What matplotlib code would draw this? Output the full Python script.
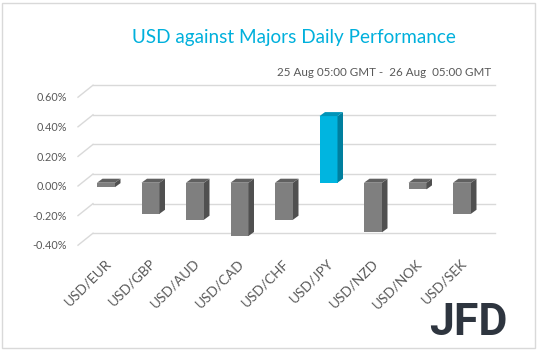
import matplotlib

matplotlib.use("Agg")
import matplotlib.pyplot as plt
from matplotlib.patches import Polygon, Rectangle

# data
pairs = ["USD/EUR", "USD/GBP", "USD/AUD", "USD/CAD", "USD/CHF", "USD/JPY", "USD/NZD", "USD/NOK", "USD/SEK"]
perf = [-0.03, -0.21, -0.25, -0.36, -0.25, 0.45, -0.335, -0.045, -0.21]
ticks = [-0.4, -0.2, 0.0, 0.2, 0.4, 0.6]
tick_labels = ["-0.40%", "-0.20%", "0.00%", "0.20%", "0.40%", "0.60%"]

W, H = 538, 351
FONT = "Lato"
GRAY_TXT = "#595959"
GRID = "#d9d9d9"

# pixel layout of the excel-like 3d plot
px_cat, x0_px = 44.5, 106.0
px_pct, y0_px = 148.0, 182.7

fig = plt.figure(figsize=(W / 100, H / 100), dpi=100)
fig.patch.set_facecolor("white")

left_px, right_px, top_px, bot_px = 70, 500, 80, 250
ax = fig.add_axes([left_px / W, 1 - bot_px / H, (right_px - left_px) / W, (bot_px - top_px) / H])
ax.set_xlim((left_px - x0_px) / px_cat, (right_px - x0_px) / px_cat)
ax.set_ylim((y0_px - bot_px) / px_pct, (y0_px - top_px) / px_pct)
ax.axis("off")


def cx(px):
    return (px - x0_px) / px_cat


def vy(px):
    return px / px_pct


# back wall gridlines + floor diagonals
back_dy = vy(8.7)
for lev, lab in zip(ticks, tick_labels):
    ax.plot([cx(93), cx(495)], [lev + back_dy, lev + back_dy], color=GRID, lw=1.0, zorder=1, clip_on=False)
    ax.plot([cx(78), cx(93)], [lev - vy(3.3), lev + back_dy], color=GRID, lw=1.0, zorder=1, clip_on=False)
    ax.text(cx(67), lev - vy(4), lab, ha="right", va="center", fontsize=7.8, color=GRAY_TXT,
            family=FONT)

# 3d bars
bw = 18 / px_cat
ddx, ddy = 5.5 / px_cat, vy(4)
for i, (name, v) in enumerate(zip(pairs, perf)):
    if name == "USD/JPY":
        front, side, top = "#00b5e0", "#007f9e", "#0094b8"
    else:
        front, side, top = "#7f7f7f", "#505050", "#606060"
    x1, x2 = i - bw / 2, i + bw / 2
    lo, hi = min(0, v), max(0, v)
    ax.add_patch(Polygon([(x1, lo), (x2, lo), (x2, hi), (x1, hi)], closed=True,
                         facecolor=front, edgecolor="none", zorder=3))
    ax.add_patch(Polygon([(x2, lo), (x2 + ddx, lo + ddy), (x2 + ddx, hi + ddy), (x2, hi)], closed=True,
                         facecolor=side, edgecolor="none", zorder=3))
    ax.add_patch(Polygon([(x1, hi), (x2, hi), (x2 + ddx, hi + ddy), (x1 + ddx, hi + ddy)], closed=True,
                         facecolor=top, edgecolor="none", zorder=3))
    ax.text(i - 0.03, vy(y0_px - 257), name, rotation=45, rotation_mode="anchor", ha="right", va="top",
            fontsize=9.8, color=GRAY_TXT, family=FONT)

# titles
fig.text(293.5 / W, 1 - 38 / H, "USD against Majors Daily Performance", ha="center", va="center",
         fontsize=13.6, color="#00b0dc", family=FONT)
fig.text(491 / W, 1 - 73 / H, "25 Aug 05:00 GMT -  26 Aug  05:00 GMT", ha="right", va="center",
         fontsize=8.4, color=GRAY_TXT, family=FONT)

# logo
fig.text(508 / W, 1 - 323 / H, "JFD", ha="right", va="center", fontsize=32, fontweight="bold",
         color="#2e353f", family="Roboto")

# outer border
fig.add_artist(Rectangle((2 / W, 3 / H), 533 / W, 345 / H, transform=fig.transFigure, fill=False,
                         edgecolor=GRID, lw=1.0))

fig.savefig("out.png", dpi=100)
